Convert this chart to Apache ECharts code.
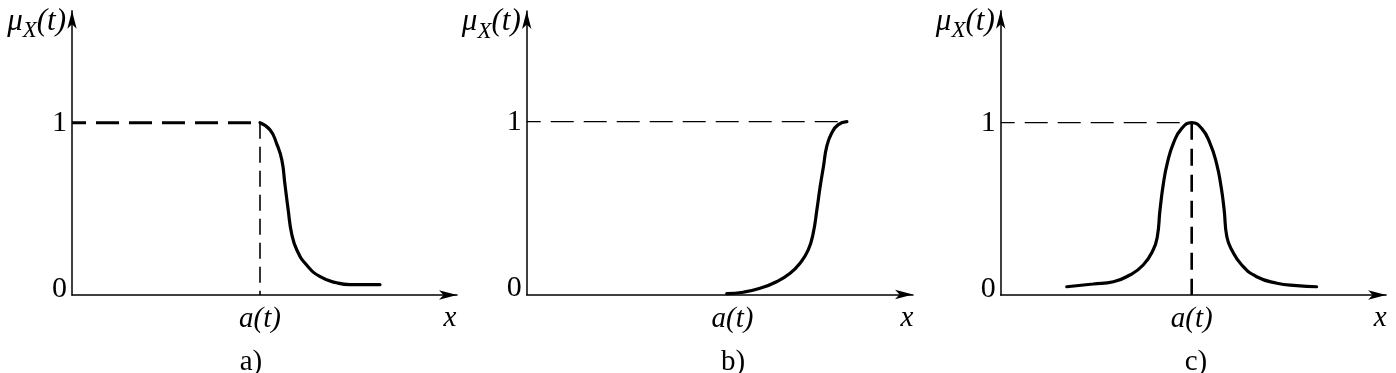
<!DOCTYPE html>
<html>
<head>
<meta charset="utf-8">
<script src="https://cdn.jsdelivr.net/npm/echarts@6/dist/echarts.min.js"></script>
<style>
html,body{margin:0;padding:0;background:#fff;}
#chart{width:1396px;height:373px;}
</style>
</head>
<body>
<div id="chart"></div>
<script>
// ---------------- data ----------------
const aT = 5;                       // position of a(t) on each x axis
const xTickValues = [aT];
const xTickLabels = ['a(t)'];
const yTickValues = [0, 1];
const yTickLabels = ['0', '1'];
const panelCaptions = ['a)', 'b)', 'c)'];
const xAxisName = 'x';

// a) decreasing membership
const curveA = [[5.00,1.000],[5.27,0.958],[5.44,0.880],[5.58,0.784],[5.66,0.648],[5.75,0.493],
  [5.84,0.358],[5.98,0.261],[6.24,0.174],[6.60,0.106],[7.04,0.071],[7.39,0.060],[8.19,0.060]];
const levelA = [[0,1],[5,1]];
const dropA  = [[5,1],[5,0]];

// b) increasing membership
const curveB = [[4.86,0.005],[5.26,0.013],[5.67,0.036],[6.07,0.074],[6.40,0.123],[6.64,0.181],
  [6.84,0.258],[6.96,0.354],[7.05,0.490],[7.13,0.625],[7.21,0.741],[7.29,0.857],[7.41,0.934],
  [7.57,0.983],[7.78,1.000]];
const levelB = [[0,1],[7.78,1]];

// c) bell-shaped membership
const curveC = [[1.73,0.048],[2.42,0.064],[2.95,0.077],[3.38,0.116],[3.73,0.174],[3.99,0.261],
  [4.10,0.338],[4.17,0.493],[4.26,0.648],[4.36,0.764],[4.52,0.880],[4.74,0.967],[5.00,1.000],
  [5.26,0.967],[5.48,0.880],[5.65,0.764],[5.77,0.628],[5.85,0.493],[5.92,0.338],[6.05,0.261],
  [6.31,0.174],[6.70,0.106],[7.23,0.068],[7.75,0.054],[8.27,0.048]];
const levelC = [[0,1],[5,1]];
const dropC  = [[5,1],[5,0]];

// ---------------- layout (pixels) ----------------
const panels = [
  {left:72,    originY:295,   pxX:37.6,  pxY:172.3, xMax:10.24, yMax:1.65, xNameGap:-7, capX:251},
  {left:526.7, originY:294.5, pxX:41.16, pxY:172.8, xMax:9.385, yMax:1.64, xNameGap:-6, capX:733},
  {left:1000.7,originY:295,   pxX:38.2,  pxY:172.3, xMax:10.09, yMax:1.65, xNameGap:-6, capX:1196}
];

const FONT = 'Liberation Serif';
const BLACK = '#000';

const grids = [], xAxes = [], yAxes = [], series = [], graphics = [];
panels.forEach((p, i) => {
  const h = p.yMax * p.pxY;
  grids.push({left: p.left, top: p.originY - h, width: p.xMax * p.pxX, height: h});
  xAxes.push({
    type: 'value', gridIndex: i, min: 0, max: p.xMax,
    axisLine: {show: true, symbol: ['none', 'arrow'], symbolSize: [7, 18],
      lineStyle: {color: BLACK, width: 1.5}},
    axisTick: {show: false}, splitLine: {show: false},
    axisLabel: {customValues: xTickValues, formatter: v => xTickLabels[xTickValues.indexOf(v)] || '',
      fontFamily: FONT, fontStyle: 'italic', fontSize: 29, color: BLACK, margin: 10},
    name: xAxisName, nameLocation: 'end', nameGap: p.xNameGap,
    nameTextStyle: {fontFamily: FONT, fontStyle: 'italic', fontSize: 29, color: BLACK,
      align: 'center', verticalAlign: 'top', padding: [9, 0, 0, 0]}
  });
  yAxes.push({
    type: 'value', gridIndex: i, min: 0, max: p.yMax,
    axisLine: {show: true, symbol: ['none', 'arrow'], symbolSize: [7, 18],
      lineStyle: {color: BLACK, width: 1.5}},
    axisTick: {show: false}, splitLine: {show: false},
    axisLabel: {customValues: yTickValues,
      formatter: v => { const k = yTickValues.indexOf(v); return k < 0 ? '' : (v === 0 ? '{z|' + yTickLabels[k] + '}' : '{o|' + yTickLabels[k] + '}'); },
      margin: 5,
      rich: {
        z: {fontFamily: FONT, fontSize: 30, color: BLACK, lineHeight: 42, verticalAlign: 'top'},
        o: {fontFamily: FONT, fontSize: 30, color: BLACK}
      }},
    name: '{m|μ}{s|X}{m|(t)}', nameLocation: 'end', nameGap: 10,
    nameTextStyle: {align: 'right', verticalAlign: 'top', padding: [0, 6, 0, 0],
      rich: {
        m: {fontFamily: FONT, fontStyle: 'italic', fontSize: 31, color: BLACK, lineHeight: 40, verticalAlign: 'middle'},
        s: {fontFamily: FONT, fontStyle: 'italic', fontSize: 23, color: BLACK, lineHeight: 42, verticalAlign: 'bottom'}
      }}
  });
  graphics.push({type: 'text', x: p.capX, y: 348,
    style: {text: panelCaptions[i], fontFamily: FONT, fontSize: 29, fill: BLACK,
      align: 'center', verticalAlign: 'top'}});
});

function dashed(data, gi, width, dash, offset) {
  return {type: 'line', xAxisIndex: gi, yAxisIndex: gi, data: data, showSymbol: false, silent: true,
    lineStyle: {color: BLACK, width: width, type: dash, dashOffset: offset || 0}, z: 2};
}
function curve(data, gi) {
  return {type: 'line', xAxisIndex: gi, yAxisIndex: gi, data: data, showSymbol: false, silent: true,
    smooth: 0.5,
    lineStyle: {color: BLACK, width: 3.2, cap: 'round', join: 'round'}, z: 3};
}

series.push(dashed(levelA, 0, 3, [23, 10], 9));
series.push(dashed(dropA, 0, 1.6, [16, 8], 0));
series.push(curve(curveA, 0));
series.push(dashed(levelB, 1, 1.3, [23, 10], 9));
series.push(curve(curveB, 1));
series.push(dashed(levelC, 2, 1.3, [23, 10], 9));
series.push(dashed(dropC, 2, 2.6, [17, 9], 0));
series.push(curve(curveC, 2));

const chart = echarts.init(document.getElementById('chart'), null, {renderer: 'canvas'});
chart.setOption({
  animation: false,
  backgroundColor: '#fff',
  textStyle: {fontFamily: FONT},
  grid: grids, xAxis: xAxes, yAxis: yAxes, series: series, graphic: graphics
});
</script>
</body>
</html>
